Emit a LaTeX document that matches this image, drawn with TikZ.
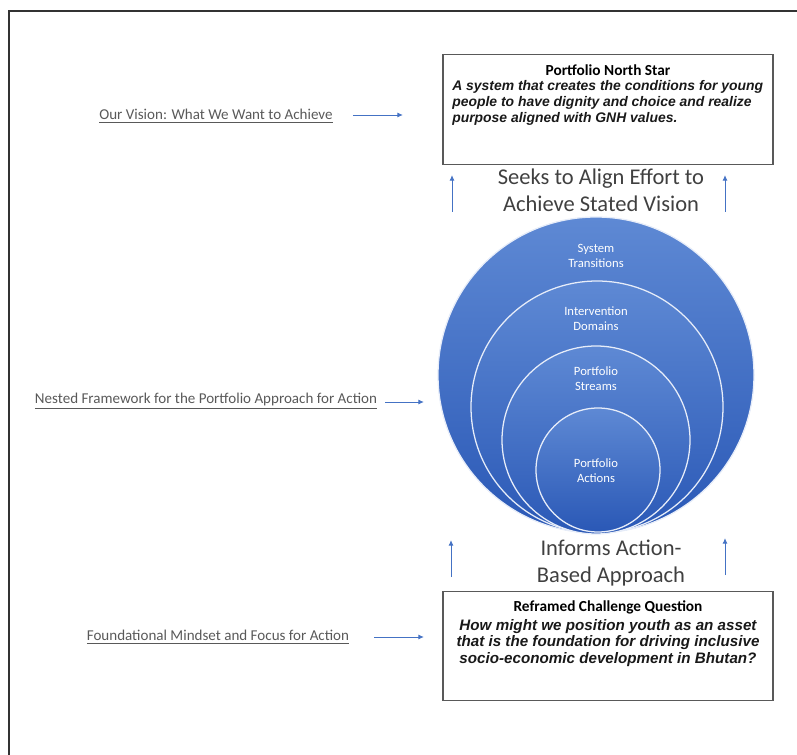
\documentclass[tikz,border=0pt]{standalone}
\usepackage{fontspec}
\setmainfont{Carlito}
\newfontfamily\boxfont{Liberation Sans}
\usetikzlibrary{arrows, arrows.meta, positioning}

\definecolor{arrowblue}{RGB}{68,114,196}
\definecolor{ringtop}{RGB}{94,137,212}
\definecolor{ringbot}{RGB}{42,88,182}
\definecolor{labelgray}{RGB}{89,89,89}
\definecolor{biggray}{RGB}{64,64,64}

\tikzset{
  sidelabel/.style={text=labelgray, inner sep=0pt, font=\fontsize{10.7}{12}\selectfont},
  pointer/.style={arrowblue, line width=0.7pt, -{Latex[length=4pt,width=3.5pt]}},
  bigtext/.style={text=biggray, align=center, inner sep=0pt, font=\fontsize{16}{19.5}\selectfont},
  ringlabel/.style={text=white, align=center, inner sep=0pt, font=\fontsize{9}{10.5}\selectfont},
  ring/.style={top color=ringtop, bottom color=ringbot, draw=white!85!ringtop, line width=0.9pt},
  framebox/.style={draw=black!65, line width=0.8pt, minimum width=8.25cm, minimum height=2.73cm, inner sep=0pt},
  boxtitle/.style={inner sep=0pt, font=\bfseries\fontsize{10.9}{12}\selectfont},
  boxtext/.style={inner sep=0pt, text=black!90, font=\boxfont\bfseries\itshape\fontsize{10.8}{11.7}\selectfont}
}

\begin{document}
\begin{tikzpicture}[x=0.025cm, y=-0.025cm]
        \useasboundingbox (0,0) rectangle (797,755);
        % outer frame
        \draw[black!80, line width=1pt] (9,790) -- (9,11) -- (830,11);

        % north star box
        \node[framebox] (star) at (608,109.5) {};
        \node[boxtitle, below=7pt of star.north] (startitle) {Portfolio North Star};
        \node[boxtext, align=left, anchor=north west, font=\boxfont\bfseries\itshape\fontsize{9.9}{11.6}\selectfont] (startext) at (452,80)
          {A system that creates the conditions for young\\people to have dignity and choice and realize\\purpose aligned with GNH values.};

        \node[bigtext] (align) at (601,190) {Seeks to Align Effort to\\Achieve Stated Vision};

        % nested rings
        \shade[ring] (596,375) circle (158);
        \shade[ring] (597,407) circle (126);
        \shade[ring] (596,440) circle (94);
        \shade[ring] (598,470) circle (62);
        \node[ringlabel] (transitions) at (596,256) {System\\Transitions};
        \node[ringlabel] (domains) at (596,319) {Intervention\\Domains};
        \node[ringlabel] (streams) at (596,379) {Portfolio\\Streams};
        \node[ringlabel] (actions) at (596,471) {Portfolio\\Actions};

        \node[bigtext] (informs) at (611,563) {Informs Action-\\Based Approach};

        % challenge box
        \node[framebox] (challenge) at (608,646) {};
        \node[boxtitle, below=7pt of challenge.north] (challtitle) {Reframed Challenge Question};
        \node[boxtext, align=center, below=3pt of challtitle] (challtext)
          {How might we position youth as an asset\\that is the foundation for driving inclusive\\socio-economic development in Bhutan?};

        % side labels
        \node[sidelabel] (vision) at (216,116) {\underline{Our Vision: What We Want to Achieve}};
        \node[sidelabel] (nested) at (206,401) {\underline{Nested Framework for the Portfolio Approach for Action}};
        \node[sidelabel] (mindset) at (218,637) {\underline{Foundational Mindset and Focus for Action}};

        \coordinate (visiontip) at (403,115);
        \coordinate (nestedtip) at (424,402);
        \coordinate (mindsettip) at (424,637);
        \draw[pointer] (vision.east) ++(20,-1) -- (visiontip);
        \draw[pointer] (nested.east) ++(8,1) -- (nestedtip);
        \draw[pointer] (mindset.east) ++(25,0) -- (mindsettip);

        % upward arrows
        \coordinate (alignLfoot) at (452,212);
        \coordinate (alignLtip) at (452,175);
        \coordinate (alignRfoot) at (725,212);
        \coordinate (alignRtip) at (725,175);
        \coordinate (informLfoot) at (451,577);
        \coordinate (informLtip) at (451,540);
        \coordinate (informRfoot) at (725,575);
        \coordinate (informRtip) at (725,538);
        \draw[pointer] (alignLfoot) -- (alignLtip);
        \draw[pointer] (alignRfoot) -- (alignRtip);
        \draw[pointer] (informLfoot) -- (informLtip);
        \draw[pointer] (informRfoot) -- (informRtip);
      \end{tikzpicture}
\end{document}
